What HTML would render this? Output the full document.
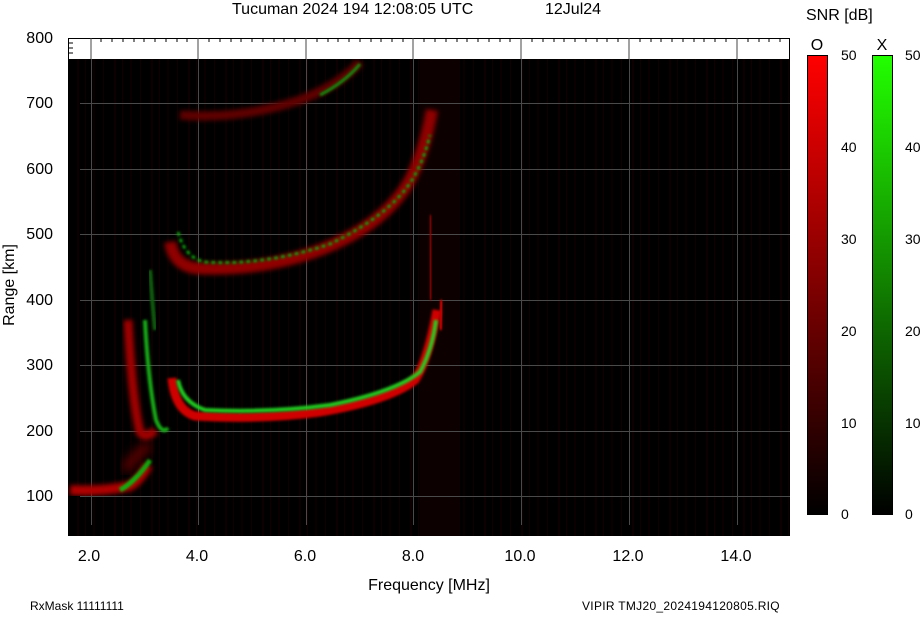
<!DOCTYPE html>
<html><head><meta charset="utf-8"><style>
body{margin:0;background:#fff;width:922px;height:614px;overflow:hidden;font-family:"Liberation Sans",sans-serif}
svg text{font-family:"Liberation Sans",sans-serif}
</style></head><body>
<svg width="922" height="614" viewBox="0 0 922 614" xmlns="http://www.w3.org/2000/svg">
<defs>
<filter id="b2" x="-20%" y="-20%" width="140%" height="140%"><feGaussianBlur stdDeviation="2.5"/></filter>
<filter id="b1" x="-20%" y="-20%" width="140%" height="140%"><feGaussianBlur stdDeviation="1.2"/></filter>
<filter id="b4" x="-20%" y="-20%" width="140%" height="140%"><feGaussianBlur stdDeviation="5"/></filter>
<linearGradient id="gr" x1="0" y1="0" x2="0" y2="1"><stop offset="0" stop-color="#ff0000"/><stop offset="1" stop-color="#000"/></linearGradient>
<linearGradient id="gg" x1="0" y1="0" x2="0" y2="1"><stop offset="0" stop-color="#22ff00"/><stop offset="1" stop-color="#000"/></linearGradient>
<pattern id="noise" width="37" height="476" patternUnits="userSpaceOnUse">
<rect x="3" y="0" width="2" height="476" fill="#0e0000"/>
<rect x="11" y="0" width="1" height="476" fill="#120000"/>
<rect x="19" y="0" width="2" height="476" fill="#0a0000"/>
<rect x="29" y="0" width="1" height="476" fill="#100000"/>
</pattern>
<clipPath id="pc"><rect x="68" y="59" width="722" height="477"/></clipPath>
</defs>
<text x="232" y="14" font-size="16">Tucuman 2024 194 12:08:05 UTC</text>
<text x="545" y="14" font-size="16">12Jul24</text>
<rect x="68" y="38" width="722" height="21" fill="#fff"/>
<line x1="68" y1="38.5" x2="790" y2="38.5" stroke="#000"/>
<line x1="68.5" y1="38" x2="68.5" y2="59" stroke="#000"/>
<line x1="789.5" y1="38" x2="789.5" y2="59" stroke="#000"/>
<g stroke="#000">
<path d="M69 43h4M69 48h4M69 53h4"/>
<path d="M101 38v4M112 38v4M123 38v4M134 38v4M144 38v4M155 38v4M166 38v4M177 38v4M187 38v4M209 38v4M220 38v4M231 38v4M241 38v4M252 38v4M263 38v4M274 38v4M284 38v4M295 38v4M317 38v4M328 38v4M338 38v4M349 38v4M360 38v4M371 38v4M381 38v4M392 38v4M403 38v4M424 38v4M435 38v4M446 38v4M457 38v4M467 38v4M478 38v4M489 38v4M500 38v4M510 38v4M532 38v4M543 38v4M554 38v4M564 38v4M575 38v4M586 38v4M597 38v4M607 38v4M618 38v4M640 38v4M651 38v4M661 38v4M672 38v4M683 38v4M694 38v4M704 38v4M715 38v4M726 38v4M748 38v4M759 38v4M769 38v4M780 38v4"/>
</g>
<g stroke="#444"><path d="M91 38v21M198 38v21M306 38v21M413 38v21M521 38v21M629 38v21M737 38v21"/></g>
<rect x="68" y="59" width="722" height="477" fill="#000"/>
<g clip-path="url(#pc)">
<rect x="68" y="59" width="722" height="477" fill="url(#noise)"/>
<rect x="420" y="59" width="40" height="477" fill="#0c0000"/>
<g stroke="#4a4a4a" stroke-width="1">
<path d="M80 103.5h710M80 169.5h710M80 234.5h710M80 300.5h710M80 365.5h710M80 431.5h710M80 496.5h710"/>
<path d="M91.5 59v466M198.5 59v466M306.5 59v466M413.5 59v466M521.5 59v466M629.5 59v466M737.5 59v466"/>
</g>
<path d="M70 490 Q100 492 130 486 Q140 480 148 465" stroke="#b00000" stroke-width="10" fill="none" filter="url(#b2)"/>
<path d="M120 490 Q135 482 150 460" stroke="#10b010" stroke-width="5" fill="none" filter="url(#b1)"/>
<path d="M125 470 Q140 450 150 445" stroke="#600000" stroke-width="10" fill="none" filter="url(#b4)"/>
<path d="M128 320 Q132 400 140 432 Q146 440 155 430" stroke="#a00000" stroke-width="9" fill="none" filter="url(#b2)"/>
<path d="M145 320 Q148 380 156 420 Q162 435 168 428" stroke="#18b018" stroke-width="4" fill="none" filter="url(#b1)"/>
<path d="M150 270 Q152 300 155 330" stroke="#0a600a" stroke-width="4" fill="none" filter="url(#b1)"/>
<path d="M172 378 Q175 410 195 416 Q260 420 320 412 Q390 400 415 380 Q428 360 437 310" stroke="#d00000" stroke-width="9" fill="none" filter="url(#b1)"/>
<path d="M178 380 Q182 402 205 410 Q270 413 330 405 Q395 392 420 372 Q432 350 436 320" stroke="#20d020" stroke-width="4" fill="none" filter="url(#b1)"/>
<path d="M430 215 L431 300" stroke="#a00000" stroke-width="3" fill="none" filter="url(#b1)"/>
<path d="M442 300 L440 330" stroke="#c00000" stroke-width="5" fill="none" filter="url(#b1)"/>
<path d="M170 242 Q174 265 195 268 Q260 272 320 250 Q385 225 410 180 Q425 150 432 110" stroke="#900000" stroke-width="12" fill="none" filter="url(#b2)"/>
<path d="M178 232 Q185 258 205 262 Q265 266 330 244 Q390 215 412 180 Q424 160 430 135" stroke="#10a010" stroke-width="3" fill="none" filter="url(#b1)" stroke-dasharray="4 3"/>
<path d="M180 115 Q240 120 300 100 Q340 85 360 62" stroke="#600000" stroke-width="9" fill="none" filter="url(#b2)"/>
<path d="M320 95 Q345 82 360 64" stroke="#109010" stroke-width="3" fill="none" filter="url(#b1)"/>
</g>
<g font-size="16" text-anchor="end">
<text x="53" y="43">800</text><text x="53" y="108">700</text><text x="53" y="174">600</text>
<text x="53" y="239">500</text><text x="53" y="305">400</text><text x="53" y="370">300</text>
<text x="53" y="436">200</text><text x="53" y="501">100</text>
</g>
<text x="14" y="285" font-size="16" text-anchor="middle" transform="rotate(-90 14 285)">Range [km]</text>
<g font-size="16" text-anchor="middle">
<text x="89" y="561">2.0</text><text x="197" y="561">4.0</text><text x="305" y="561">6.0</text>
<text x="413" y="561">8.0</text><text x="520" y="561">10.0</text><text x="628" y="561">12.0</text><text x="736" y="561">14.0</text>
</g>
<text x="429" y="590" font-size="16" text-anchor="middle">Frequency [MHz]</text>
<text x="30" y="610" font-size="12">RxMask 11111111</text>
<text x="582" y="610" font-size="12" letter-spacing="0.3">VIPIR  TMJ20_2024194120805.RIQ</text>
<text x="806" y="20" font-size="16">SNR [dB]</text>
<text x="817" y="50" font-size="16" text-anchor="middle">O</text>
<text x="882" y="50" font-size="16" text-anchor="middle">X</text>
<rect x="807.5" y="55.5" width="20" height="459" fill="url(#gr)" stroke="#000"/>
<rect x="872.5" y="55.5" width="20" height="459" fill="url(#gg)" stroke="#000"/>
<g font-size="14">
<text x="841" y="60">50</text><text x="841" y="152">40</text><text x="841" y="244">30</text><text x="841" y="336">20</text><text x="841" y="428">10</text><text x="841" y="519">0</text>
<text x="905" y="60">50</text><text x="905" y="152">40</text><text x="905" y="244">30</text><text x="905" y="336">20</text><text x="905" y="428">10</text><text x="905" y="519">0</text>
</g>
</svg>
</body></html>
